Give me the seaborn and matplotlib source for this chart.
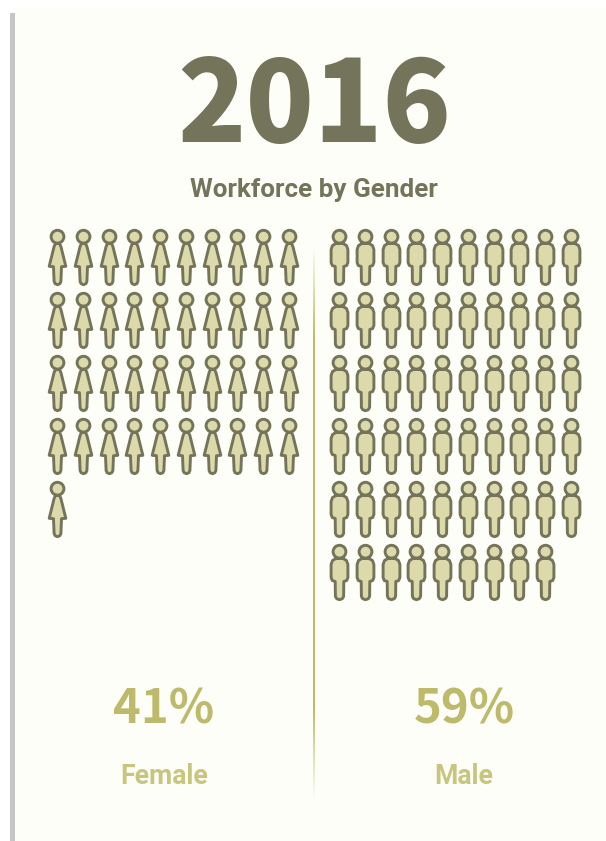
import numpy as np
import matplotlib
matplotlib.use("Agg")
import matplotlib.pyplot as plt
from matplotlib.path import Path
from matplotlib.markers import MarkerStyle
from matplotlib.patches import Rectangle
import seaborn as sns
import pandas as pd

year = "2016"
subtitle = "Workforce by Gender"
genders = ["Female", "Male"]
counts = [41, 59]
pct_labels = ["41%", "59%"]

W, H = 606, 841
DARK = "#74745a"
FILL = "#dcdaaa"
ACC = "#bdbb6b"
BG = "#fdfef8"

sns.set_theme(style="white")
fig = plt.figure(figsize=(W / 100, H / 100), dpi=100, facecolor="white")

def box(x0, y0, x1, y1):
    return [x0 / W, 1 - y1 / H, (x1 - x0) / W, (y1 - y0) / H]

bg = fig.add_axes([0, 0, 1, 1])
bg.set_xlim(0, W); bg.set_ylim(H, 0); bg.axis("off")
bg.add_patch(Rectangle((15, 8), W - 15, H - 8, color=BG, lw=0))
bg.add_patch(Rectangle((10, 13), 5, H - 13, color="#c6c6c8", lw=0))

grad = np.linspace(0, 1, 300)
alpha = np.clip(np.minimum(grad, 1 - grad) * 6, 0, 1) * 0.9
rgba = np.zeros((300, 1, 4))
rgba[..., :3] = matplotlib.colors.to_rgb("#b5b450")
rgba[..., 3] = alpha[:, None]
bg.imshow(rgba, extent=(313.4, 314.5, 800, 245), aspect="auto", zorder=2, interpolation="bilinear")
bg.set_xlim(0, W); bg.set_ylim(H, 0)

def head_and(body):
    c = Path.circle((0, 20.8), 6.4)
    b = Path(np.array(body, float) * [1, -1], closed=True)
    return Path.make_compound_path(c, b)

female_body = [(-2.0, -14), (2.0, -14), (3.4, -11), (8.3, 8.8), (4.0, 9.2),
               (3.4, 24), (2.4, 26.2), (0, 27.2), (-2.4, 26.2), (-3.4, 24),
               (-4.0, 9.2), (-8.3, 8.8), (-3.4, -11), (-2.0, -14)]
male_body = [(-3.5, -14), (3.5, -14), (7, -12), (8.4, -8), (8.4, 5), (7.2, 8), (4.3, 9),
             (4.1, 24), (2.8, 26.2), (0, 27.2), (-2.8, 26.2), (-4.1, 24),
             (-4.3, 9), (-7.2, 8), (-8.4, 5), (-8.4, -8), (-7, -12), (-3.5, -14)]
bodies = {"Female": female_body, "Male": male_body}
origin_x = {"Female": 57, "Male": 339}
step = 25.75
rowstep = 63

for g, n in zip(genders, counts):
    df = pd.DataFrame({"col": np.arange(n) % 10, "row": np.arange(n) // 10})
    x0 = origin_x[g]
    ax = fig.add_axes(box(x0 - step / 2, 257 - rowstep / 2, x0 + 9.5 * step, 257 + 5.5 * rowstep))
    ax.patch.set_alpha(0)
    sns.scatterplot(data=df, x="col", y="row", ax=ax, marker=MarkerStyle(head_and(bodies[g])),
                    s=(54.4 * 0.72) ** 2, color=FILL, edgecolor=DARK, linewidth=2.1,
                    clip_on=False, legend=False)
    ax.set_xlim(-0.5, 9.5); ax.set_ylim(5.5, -0.5)
    ax.axis("off")

def T(x, y, s, **k):
    bg.text(x, y, s, ha="center", va="center", **k)

T(314.5, 108, year, fontsize=81, color=DARK, family="Noto Sans CJK JP", fontweight="black")
T(314, 189.5, subtitle, fontsize=18.7, color=DARK, family="Roboto", fontweight="bold")
for x, lab, g in zip([164, 464], pct_labels, genders):
    T(x, 710, lab, fontsize=34, color=ACC, family="Noto Sans CJK JP", fontweight="bold")
    T(x, 777, g, fontsize=19.2, color="#c8c67e", family="Roboto", fontweight="bold")

fig.savefig("out.png", dpi=100, facecolor="white")
